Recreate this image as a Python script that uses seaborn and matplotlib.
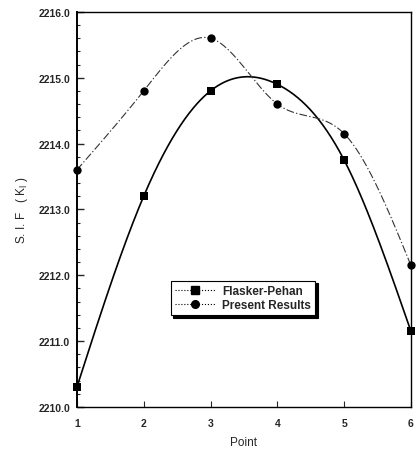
import numpy as np
import pandas as pd
import matplotlib
matplotlib.use("Agg")
import matplotlib.pyplot as plt
from matplotlib.lines import Line2D
from matplotlib.ticker import MultipleLocator, FormatStrFormatter
import seaborn as sns

points = [1, 2, 3, 4, 5, 6]
flasker_pehan = [2210.3, 2213.2, 2214.8, 2214.9, 2213.75, 2211.15]
present_results = [2213.6, 2214.8, 2215.6, 2214.6, 2214.15, 2212.15]


def natural_spline(x, y, xs):
    x = np.asarray(x, float)
    y = np.asarray(y, float)
    n = len(x)
    h = np.diff(x)
    A = np.zeros((n, n))
    rhs = np.zeros(n)
    A[0, 0] = A[-1, -1] = 1.0
    for i in range(1, n - 1):
        A[i, i - 1] = h[i - 1]
        A[i, i] = 2 * (h[i - 1] + h[i])
        A[i, i + 1] = h[i]
        rhs[i] = 3 * ((y[i + 1] - y[i]) / h[i] - (y[i] - y[i - 1]) / h[i - 1])
    c = np.linalg.solve(A, rhs)
    b = (y[1:] - y[:-1]) / h - h * (2 * c[:-1] + c[1:]) / 3
    d = (c[1:] - c[:-1]) / (3 * h)
    idx = np.clip(np.searchsorted(x, xs) - 1, 0, n - 2)
    t = xs - x[idx]
    return y[idx] + b[idx] * t + c[idx] * t ** 2 + d[idx] * t ** 3


sns.set_style("white")
plt.rcParams["font.family"] = ["Liberation Sans", "DejaVu Sans"]

fig = plt.figure(figsize=(4.18, 4.77), dpi=100)
ax = fig.add_axes([0.184, 0.145, 0.799, 0.828])

xs = np.linspace(1, 6, 400)
smooth = pd.DataFrame({
    "x": xs,
    "fp": natural_spline(points, flasker_pehan, xs),
    "pr": natural_spline(points, present_results, xs),
})
marks = pd.DataFrame({"x": points, "fp": flasker_pehan, "pr": present_results})

sns.lineplot(data=smooth, x="x", y="fp", ax=ax, color="black", lw=1.2,
             estimator=None, sort=False)
sns.lineplot(data=smooth, x="x", y="pr", ax=ax, color="#333333", lw=0.8,
             estimator=None, sort=False, dashes=False)
ax.lines[-1].set_dashes([7, 2, 1.2, 2])

sns.scatterplot(data=marks, x="x", y="fp", ax=ax, marker="s", s=32,
                color="black", edgecolor="black", linewidth=0, zorder=5, clip_on=False)
sns.scatterplot(data=marks, x="x", y="pr", ax=ax, marker="o", s=36,
                color="black", edgecolor="black", linewidth=0, zorder=5, clip_on=False)

ax.set_xlim(1, 6)
ax.set_ylim(2210, 2216)
ax.set_xticks(points)
ax.yaxis.set_major_locator(MultipleLocator(1.0))
ax.yaxis.set_minor_locator(MultipleLocator(0.2))
ax.yaxis.set_major_formatter(FormatStrFormatter("%.1f"))
ax.tick_params(axis="y", which="major", direction="in", length=5, width=1,
               left=True, labelsize=7.5, pad=5)
ax.tick_params(axis="y", which="minor", direction="in", length=2.5, width=0.8, left=True)
ax.tick_params(axis="x", which="major", direction="in", length=4, width=0.8,
               bottom=True, labelsize=7.5, pad=8)
for lbl in ax.get_xticklabels() + ax.get_yticklabels():
    lbl.set_fontweight("bold")

for side in ["left", "bottom", "top", "right"]:
    ax.spines[side].set_color("black")
    ax.spines[side].set_linewidth(1.0)
ax.spines["left"].set_linewidth(1.4)

ax.set_xlabel("Point", fontsize=8.5, labelpad=6)
ax.set_ylabel("S. I. F   ( K$_\\mathrm{I}$ )", fontsize=8.5, labelpad=6)

handles = [
    Line2D([], [], color="black", ls=":", lw=0.8, marker="s", markersize=5.5),
    Line2D([], [], color="black", ls=":", lw=0.8, marker="o", markersize=5.5),
]
leg = ax.legend(handles, ["Flasker-Pehan", "Present Results"],
                loc="center", bbox_to_anchor=(0.497, 0.276),
                frameon=True, fancybox=False, shadow={"color": "black", "alpha": 1},
                edgecolor="black", framealpha=1, handlelength=3.4,
                handletextpad=0.6, borderpad=0.35, labelspacing=0.2,
                prop={"size": 8.5, "weight": "bold"})
leg.get_frame().set_linewidth(0.8)

fig.savefig("out.png", dpi=100)
